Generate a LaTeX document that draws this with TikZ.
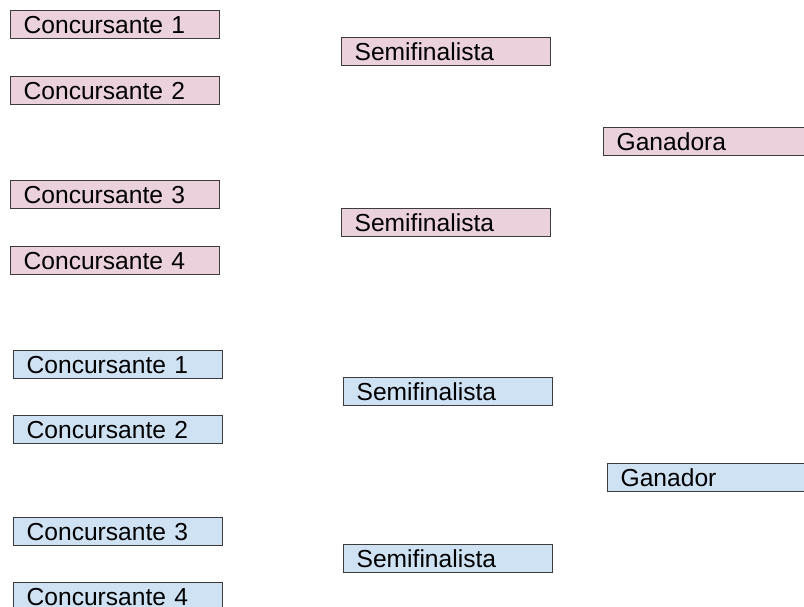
\documentclass[tikz,border=0pt]{standalone}
\usepackage{fontspec}
\setmainfont{Liberation Sans}
\definecolor{rosa}{HTML}{EAD1DC}
\definecolor{celeste}{HTML}{CFE2F3}
\definecolor{borde}{HTML}{3C3C3C}
\begin{document}
\begin{tikzpicture}[x=1pt,y=-1pt,
	caja/.style={draw=borde,line width=1.3pt,anchor=north west,minimum width=209pt,
		text width=183pt,align=left,inner xsep=13pt,inner ysep=3pt,
		text height=20pt,text depth=2pt,font=\fontsize{24.6}{27}\selectfont},
	chica/.style={caja,fill=rosa},
	chico/.style={caja,fill=celeste}]
	\useasboundingbox (0,0) rectangle (804,607);
	% rama rosa
	\node[chica] (c1) at (10,10) {Concursante 1};
	\node[chica] (c2) at (10,76) {Concursante 2};
	\node[chica] (c3) at (10,180) {Concursante 3};
	\node[chica] (c4) at (10,246) {Concursante 4};
	\node[chica] (s1) at (341,37) {Semifinalista};
	\node[chica] (s2) at (341,208) {Semifinalista};
	\node[chica] (g) at (603,127) {Ganadora};
	% rama celeste
	\node[chico] (d1) at (13,350) {Concursante 1};
	\node[chico] (d2) at (13,415) {Concursante 2};
	\node[chico] (d3) at (13,517) {Concursante 3};
	\node[chico] (d4) at (13,582) {Concursante 4};
	\node[chico] (t1) at (343,377) {Semifinalista};
	\node[chico] (t2) at (343,544) {Semifinalista};
	\node[chico] (h) at (607,463) {Ganador};
\end{tikzpicture}
\end{document}
